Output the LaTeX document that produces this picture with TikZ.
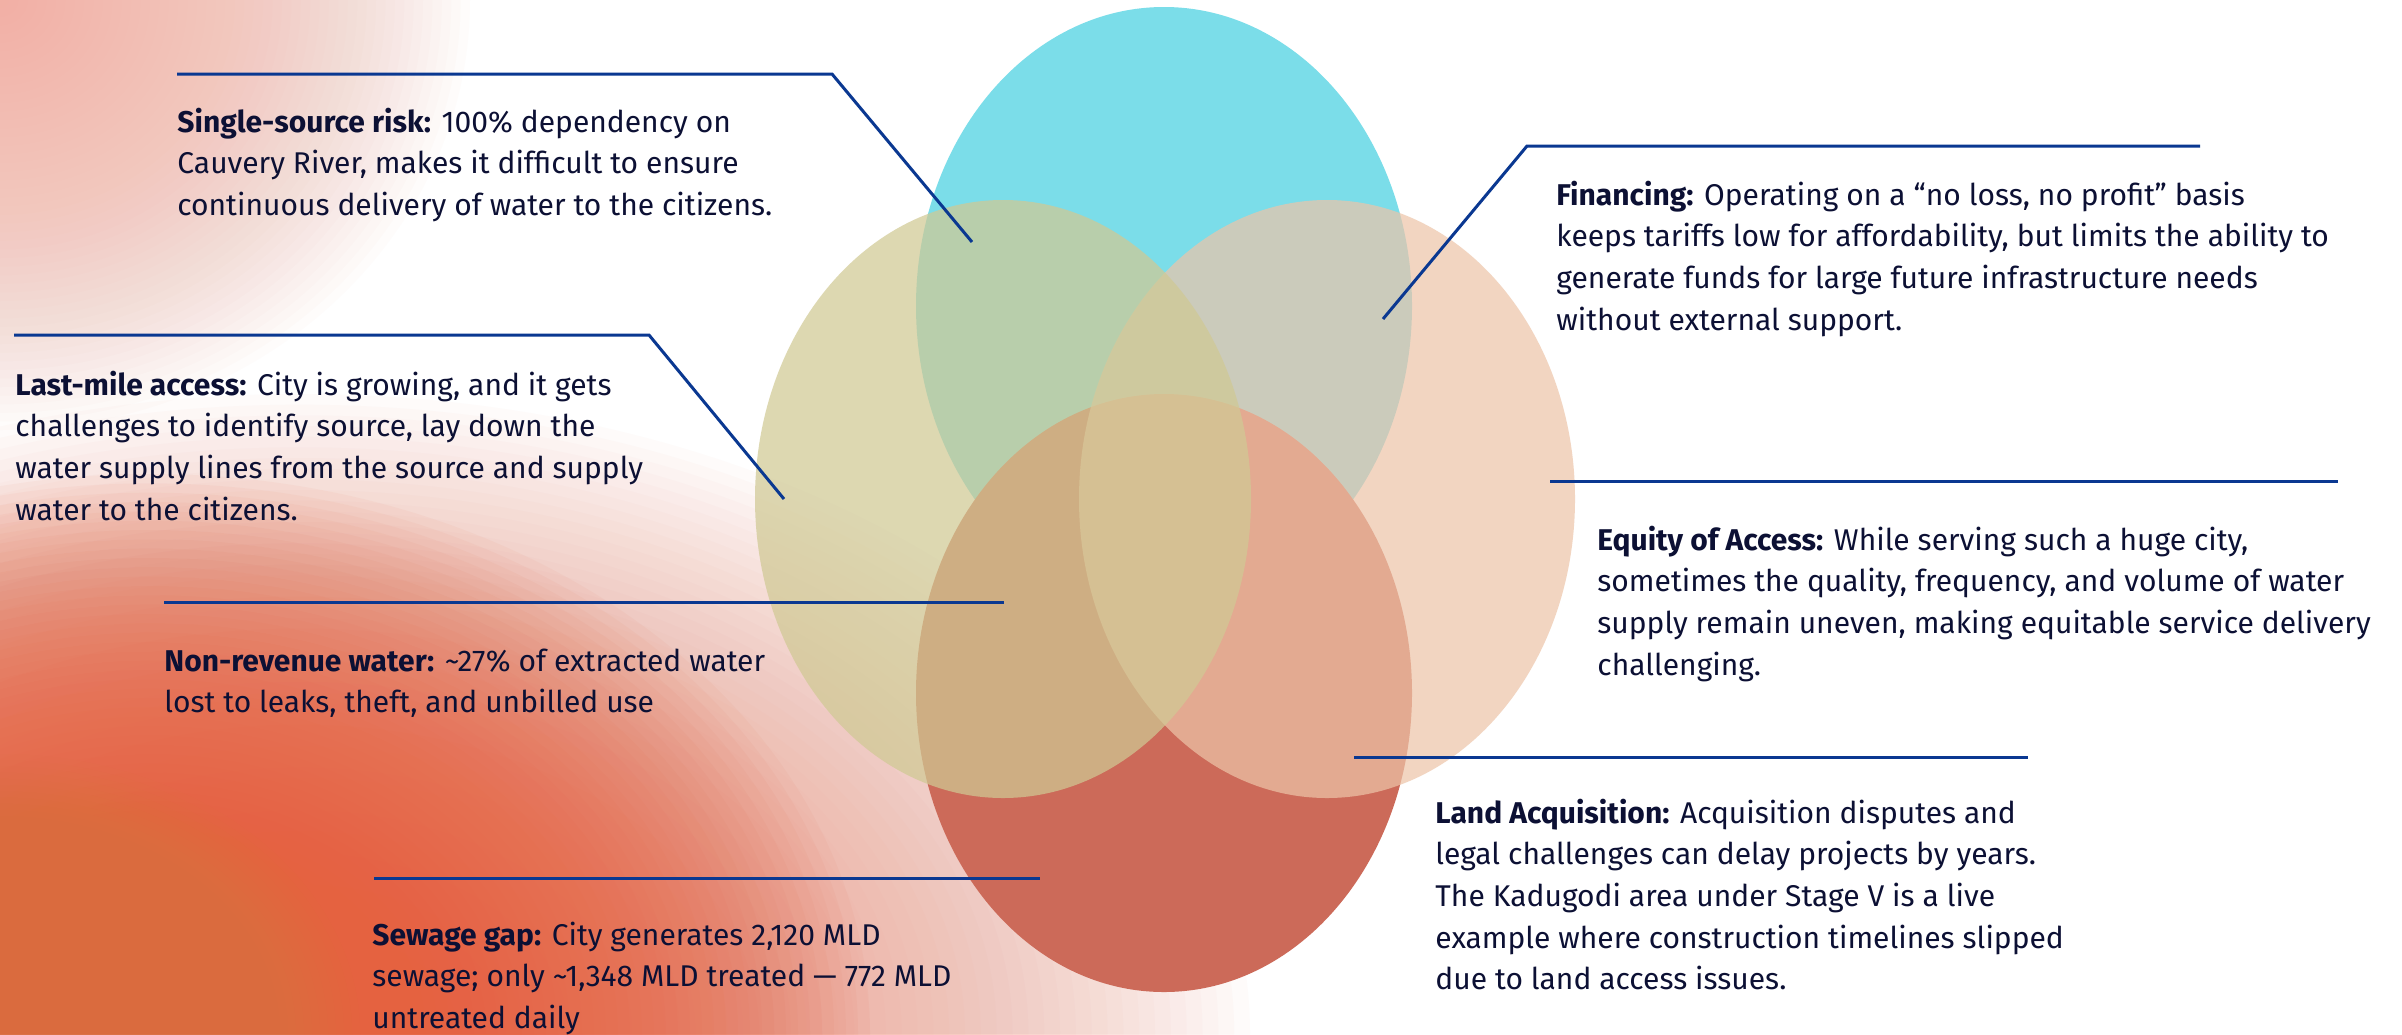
\documentclass[tikz,border=0pt]{standalone}
\usepackage{fontspec}
\setmainfont{Fira Sans}
\definecolor{txt}{RGB}{12,16,52}
\definecolor{lead}{RGB}{10,56,145}
\definecolor{cyanE}{RGB}{123,221,233}
\definecolor{redE}{RGB}{204,106,89}
\definecolor{yelE}{RGB}{208,201,148}
\definecolor{peaE}{RGB}{237,197,169}
\definecolor{bgOr}{RGB}{229,98,64}
\definecolor{bgAmb}{RGB}{218,132,62}
\definecolor{bgSal}{RGB}{238,140,120}
\definecolor{bgPink}{RGB}{242,176,162}
\tikzset{
  lbl/.style={anchor=base west, inner sep=0pt, text=txt, font=\fontsize{15}{20.85}\selectfont},
  leader/.style={draw=lead, line width=1.5pt, line join=miter}
}
\newcommand{\lblbox}[1]{\parbox[t]{800pt}{\raggedright #1}}
% soft blob: colour, opacity per step, steps, centre x, centre y, rx, ry
\newcommand{\softblob}[7]{%
  \foreach \k in {1,...,#3}{%
    \pgfmathsetmacro{\rxx}{\k*(#6/#3)}%
    \pgfmathsetmacro{\ryy}{\k*(#7/#3)}%
    \fill[#1, fill opacity=#2] (#4,#5) ellipse ({\rxx} and {\ryy});
  }}
\begin{document}
\begin{tikzpicture}[x=0.5pt,y=-0.5pt]
\useasboundingbox (0,0) rectangle (2402,1034);
\fill[white] (0,0) rectangle (2402,1034);
\begin{scope}
\clip (0,0) rectangle (2402,1034);
\softblob{bgPink}{0.035}{50}{0}{0}{470}{430}
\softblob{bgSal}{0.03}{60}{300}{1034}{950}{640}
\softblob{bgOr}{0.05}{60}{150}{1034}{720}{560}
\softblob{bgAmb}{0.04}{45}{0}{1034}{360}{280}
\end{scope}
% Venn ellipses
\fill[cyanE] (1164,306) ellipse (248 and 299);
\fill[redE] (1164,693) ellipse (248 and 299);
\fill[peaE, fill opacity=0.71] (1327,499) ellipse (248 and 299);
\fill[yelE, fill opacity=0.72] (1003,499) ellipse (248 and 299);
% leader lines
\coordinate (a1) at (177,74); \coordinate (a2) at (832,74); \coordinate (a3) at (972,242);
\coordinate (b1) at (1383,319); \coordinate (b2) at (1527,146); \coordinate (b3) at (2200,146);
\coordinate (c1) at (14,335); \coordinate (c2) at (649,335); \coordinate (c3) at (784,499);
\coordinate (d1) at (1550,481); \coordinate (d2) at (2338,481);
\coordinate (e1) at (164,602); \coordinate (e2) at (1004,602);
\coordinate (f1) at (1354,757); \coordinate (f2) at (2028,757);
\coordinate (g1) at (374,878); \coordinate (g2) at (1040,878);
\draw[leader] (a1) -- (a2) -- (a3);
\draw[leader] (b1) -- (b2) -- (b3);
\draw[leader] (c1) -- (c2) -- (c3);
\draw[leader] (d1) -- (d2);
\draw[leader] (e1) -- (e2);
\draw[leader] (f1) -- (f2);
\draw[leader] (g1) -- (g2);
% labels
\node[lbl] (t1) at (177,132) {\lblbox{\textbf{Single-source risk:} 100\% dependency on\\Cauvery River, makes it difficult to ensure\\continuous delivery of water to the citizens.}};
\node[lbl] (t2) at (1556,205) {\lblbox{\textbf{Financing:} Operating on a “no loss, no profit” basis\\keeps tariffs low for affordability, but limits the ability to\\generate funds for large future infrastructure needs\\without external support.}};
\node[lbl] (t3) at (15,395) {\lblbox{\textbf{Last-mile access:} City is growing, and it gets\\challenges to identify source, lay down the\\water supply lines from the source and supply\\water to the citizens.}};
\node[lbl] (t4) at (1597,550) {\lblbox{\textbf{Equity of Access:} While serving such a huge city,\\sometimes the quality, frequency, and volume of water\\supply remain uneven, making equitable service delivery\\challenging.}};
\node[lbl] (t5) at (164,671) {\lblbox{\textbf{Non-revenue water:} \textasciitilde27\% of extracted water\\lost to leaks, theft, and unbilled use}};
\node[lbl] (t6) at (1435,823) {\lblbox{\textbf{Land Acquisition:} Acquisition disputes and\\legal challenges can delay projects by years.\\The Kadugodi area under Stage V is a live\\example where construction timelines slipped\\due to land access issues.}};
\node[lbl] (t7) at (372,945) {\lblbox{\textbf{Sewage gap:} City generates 2,120 MLD\\sewage; only \textasciitilde1,348 MLD treated — 772 MLD\\untreated daily}};
\end{tikzpicture}
\end{document}
